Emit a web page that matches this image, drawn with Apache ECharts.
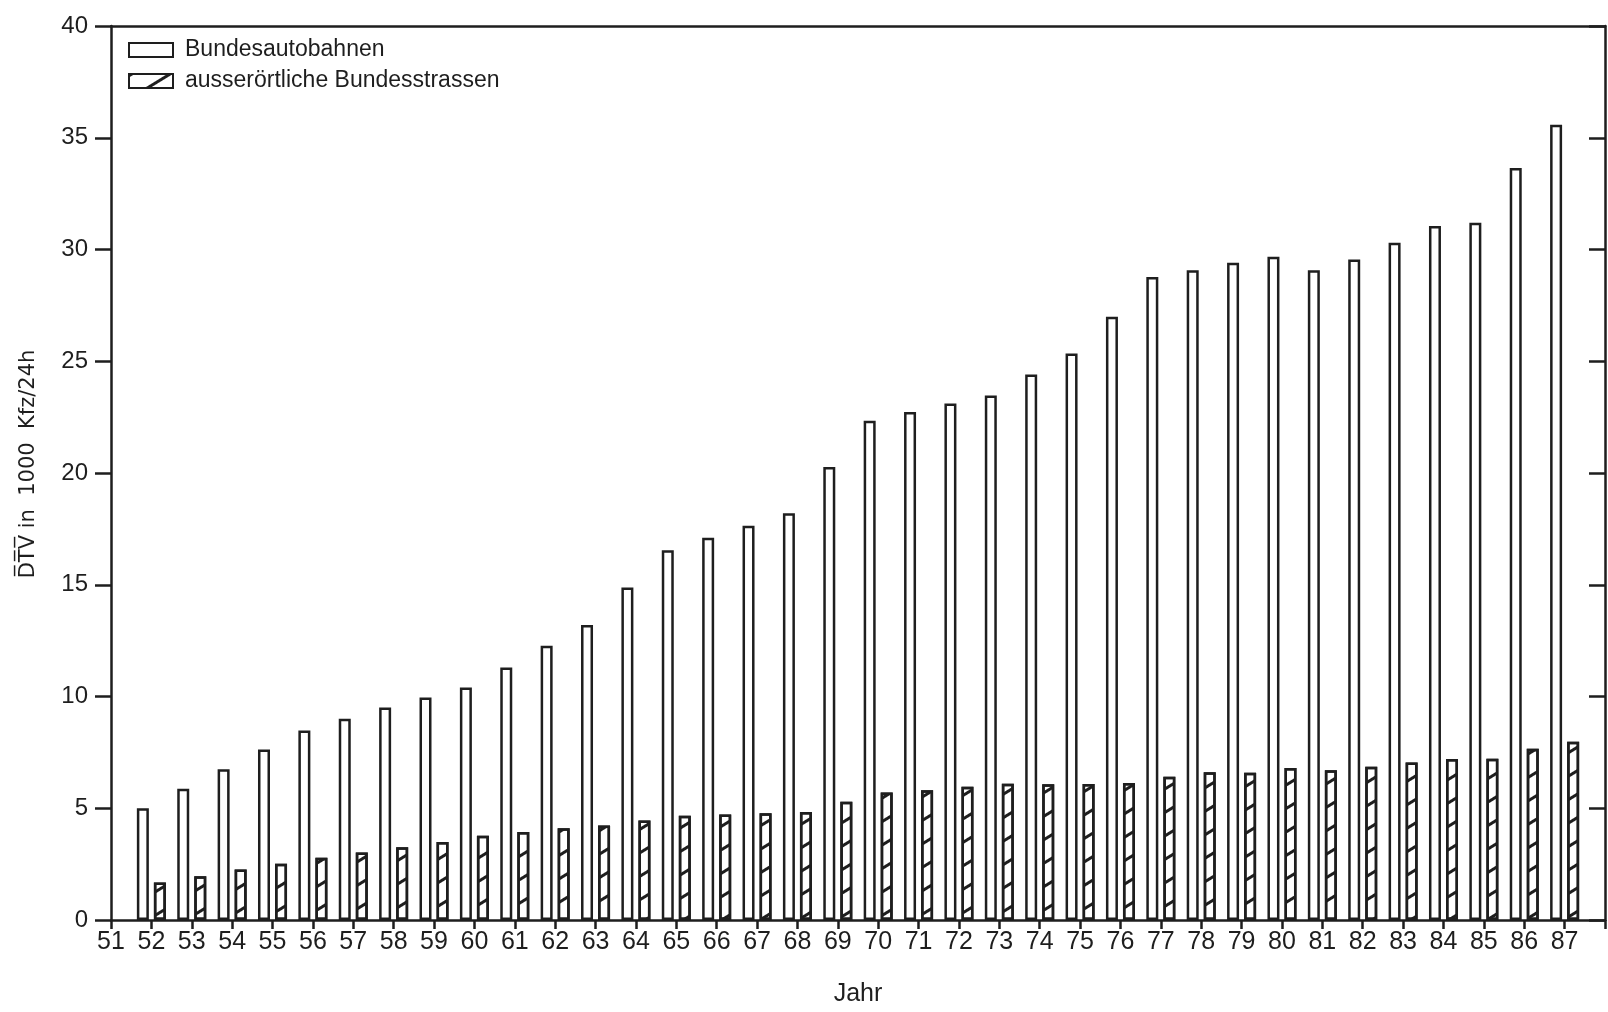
<!DOCTYPE html>
<html>
<head>
<meta charset="utf-8">
<script src="https://cdn.jsdelivr.net/npm/echarts@6/dist/echarts.min.js"></script>
<style>
html,body{margin:0;padding:0;background:#fff;}
#chart{width:1608px;height:1012px;}
</style>
</head>
<body>
<div id="chart"></div>
<script>
const years = [52,53,54,55,56,57,58,59,60,61,62,63,64,65,66,67,68,69,70,71,72,73,74,75,76,77,78,79,80,81,82,83,84,85,86,87];
const autobahnen = [5.0,5.87,6.74,7.63,8.48,9.01,9.51,9.95,10.4,11.3,12.27,13.2,14.88,16.54,17.1,17.64,18.2,20.27,22.34,22.73,23.11,23.47,24.41,25.35,26.99,28.77,29.07,29.41,29.68,29.07,29.55,30.3,31.05,31.2,33.65,35.58];
const bundesstrassen = [1.68,1.96,2.26,2.52,2.79,3.02,3.26,3.49,3.77,3.94,4.1,4.23,4.45,4.66,4.72,4.78,4.83,5.29,5.71,5.81,5.96,6.1,6.07,6.08,6.13,6.41,6.61,6.59,6.8,6.7,6.86,7.05,7.2,7.22,7.66,7.98];
const seriesNames = ['Bundesautobahnen','ausserörtliche Bundesstrassen'];
const xMin = 51, xMax = 88;
const yMin = 0, yMax = 40, yStep = 5;

const ink = '#1e1e1e';
const font = 'Liberation Sans';

const chart = echarts.init(document.getElementById('chart'), null, {renderer:'canvas'});
chart.setOption({
  backgroundColor:'#fff',
  animation:false,
  textStyle:{fontFamily:font, color:ink},
  legend:{
    data:seriesNames.map(n=>({name:n, icon:'rect'})),
    orient:'vertical',
    left:123, top:33,
    itemWidth:44, itemHeight:14, itemGap:7,
    textStyle:{fontSize:23, color:ink, fontFamily:font, padding:[0,0,0,7], lineHeight:24}
  },
  grid:{left:111, right:2, top:26, bottom:87, containLabel:false},
  xAxis:[{
    type:'value', min:xMin, max:xMax, interval:1, position:'bottom',
    name:'Jahr', nameLocation:'middle', nameGap:62,
    nameTextStyle:{fontSize:25, color:ink, fontFamily:font},
    axisLine:{show:true, onZero:false, lineStyle:{color:ink, width:2.5}},
    axisTick:{show:true, inside:false, length:9, lineStyle:{color:ink, width:2.5}},
    axisLabel:{show:true, margin:10, fontSize:25, color:ink, fontFamily:font,
      formatter:function(v){ return v >= xMax ? '' : String(v); }},
    splitLine:{show:false}
  },{
    type:'value', min:xMin, max:xMax, interval:1, position:'top',
    axisLine:{show:true, onZero:false, lineStyle:{color:ink, width:2.5}},
    axisTick:{show:false}, axisLabel:{show:false}, splitLine:{show:false}
  }],
  yAxis:[{
    type:'value', min:yMin, max:yMax, interval:yStep, position:'left',
    name:'D\u0305T\u0305V\u0305 in  1000  Kfz/24h', nameLocation:'middle', nameGap:72, nameRotate:90,
    nameTextStyle:{fontSize:21, color:ink, fontFamily:'DejaVu Sans', padding:[0,0,0,18]},
    axisLine:{show:true, onZero:false, lineStyle:{color:ink, width:2.5}},
    axisTick:{show:true, inside:false, length:16, lineStyle:{color:ink, width:2.5}},
    axisLabel:{show:true, margin:23, fontSize:24, color:ink, fontFamily:font},
    splitLine:{show:false}
  },{
    type:'value', min:yMin, max:yMax, interval:yStep, position:'right',
    axisLine:{show:true, onZero:false, lineStyle:{color:ink, width:2.5}},
    axisTick:{show:true, inside:true, length:16, lineStyle:{color:ink, width:2.5}},
    axisLabel:{show:false}, splitLine:{show:false}
  }],
  series:[{
    name:seriesNames[0], type:'bar', xAxisIndex:0, yAxisIndex:0,
    barWidth:12, barGap:'42%',
    data:years.map((y,i)=>[y, autobahnen[i]]),
    itemStyle:{color:'#fff', borderColor:ink, borderWidth:2.5}
  },{
    name:seriesNames[1], type:'bar', xAxisIndex:0, yAxisIndex:0,
    barWidth:12, barGap:'42%',
    data:years.map((y,i)=>[y, bundesstrassen[i]]),
    itemStyle:{color:'#fff', borderColor:ink, borderWidth:2.5,
      decal:{symbol:'rect', dashArrayX:[1,0], dashArrayY:[2.5,17], rotation:-0.55, color:ink}}
  }]
});
</script>
</body>
</html>
